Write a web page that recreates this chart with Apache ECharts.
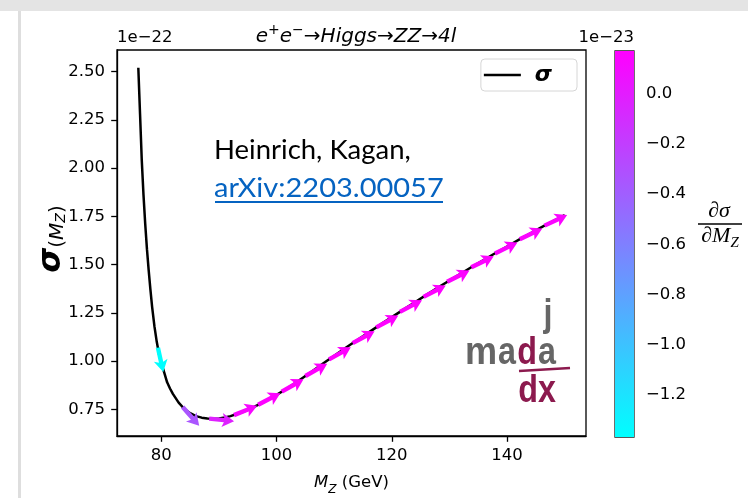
<!DOCTYPE html>
<html>
<head>
<meta charset="utf-8">
<script src="https://cdn.jsdelivr.net/npm/echarts@6/dist/echarts.min.js"></script>
<style>
  html, body { margin: 0; padding: 0; background: #ffffff; }
  #chart { width: 748px; height: 498px; }
</style>
</head>
<body>
<div id="chart"></div>
<script>
// Cross section sigma(M_Z) in units of 1e-22
const mzLine = [76.0, 76.3, 76.6, 76.9, 77.2, 77.5, 77.8, 78.1, 78.4, 78.8, 79.2, 79.6, 80.0, 80.5,
  81.0, 81.5, 82.0, 83.0, 84.0, 85.0, 86.0, 87.0, 88.0, 89.0, 90.0, 91.0, 92.0, 94.0, 96.0, 98.0,
  100, 102, 104, 106, 108, 110, 112, 114, 116, 118, 120, 122, 124, 126, 128, 130, 132, 134, 136,
  138, 140, 142, 144, 146, 148, 150];
const sigmaLine = [2.52, 2.28, 2.04, 1.86, 1.71, 1.58, 1.47, 1.37, 1.28, 1.18, 1.10, 1.035, 0.99, 0.94,
  0.89, 0.858, 0.83, 0.785, 0.752, 0.73, 0.715, 0.707, 0.703, 0.702, 0.703, 0.708, 0.715, 0.735, 0.762, 0.792,
  0.825, 0.862, 0.902, 0.944, 0.986, 1.028, 1.069, 1.109, 1.149, 1.189, 1.228, 1.267, 1.305, 1.343, 1.381,
  1.418, 1.454, 1.490, 1.525, 1.560, 1.594, 1.628, 1.661, 1.694, 1.726, 1.757];

// Gradient arrows: position, sigma at the tail, d(sigma)/dM_Z in units of 1e-23
const arrowMz = [79.4, 83.7, 88.3, 92.6, 96.8, 100.9, 105.0, 109.1, 113.2, 117.3, 121.4, 125.5,
  129.6, 133.8, 137.9, 142.2, 146.5];
const arrowSigma = [1.07, 0.762, 0.702, 0.72, 0.774, 0.842, 0.923, 1.009, 1.093, 1.175, 1.255, 1.333,
  1.411, 1.486, 1.558, 1.631, 1.702];
const arrowSlope = [-1.367, -0.34, -0.03, 0.12, 0.155, 0.169, 0.168, 0.166, 0.163, 0.16, 0.157, 0.154,
  0.151, 0.148, 0.145, 0.143, 0.14];

// Tick labels
const xTicks = [80, 100, 120, 140];
const yTicks = [0.75, 1.00, 1.25, 1.50, 1.75, 2.00, 2.25, 2.50];
const cbTicks = [-1.2, -1.0, -0.8, -0.6, -0.4, -0.2, 0.0];
const cbRange = [-1.367, 0.169];

const FONT = 'DejaVu Sans';
const LOGO_FONT = 'Liberation Sans';
const chart = echarts.init(document.getElementById('chart'), null, { renderer: 'canvas' });

function minusFmt(v, digits) {
  const s = Math.abs(v).toFixed(digits);
  return (v < -1e-9 ? '\u2212' : '') + s;
}

function arrowItem(params, api) {
  const x = api.value(0), y = api.value(1), s = api.value(2);
  const p0 = api.coord([x, y]);
  const p1 = api.coord([x + 1, y + s * 0.1]);
  let dx = p1[0] - p0[0], dy = p1[1] - p0[1];
  const n = Math.hypot(dx, dy);
  dx /= n; dy /= n;
  const nx = -dy, ny = dx;
  const L = 25, sw = 2.2, hw = 7, hl = 12, ha = 10;
  const pt = (a, b) => [p0[0] + dx * a + nx * b, p0[1] + dy * a + ny * b];
  return {
    type: 'polygon',
    shape: { points: [pt(0, -sw), pt(L - ha, -sw), pt(L - hl, -hw), pt(L, 0), pt(L - hl, hw), pt(L - ha, sw), pt(0, sw)] },
    style: { fill: api.visual('color') }
  };
}

function colorbarItem(params, api) {
  const a = api.coord([0, api.value(2)]);
  const b = api.coord([1, api.value(1)]);
  return {
    type: 'rect',
    shape: { x: a[0], y: a[1], width: b[0] - a[0], height: b[1] - a[1] },
    style: {
      fill: new echarts.graphic.LinearGradient(0, 0, 0, 1, [
        { offset: 0, color: '#ff00ff' }, { offset: 1, color: '#00ffff' }
      ])
    }
  };
}

function logoText(txt, x, y, color, sx) {
  return {
    type: 'text', x: x, y: y, scaleX: sx,
    style: { text: txt, fontFamily: LOGO_FONT, fontWeight: 'bold', fontSize: 38, fill: color,
      textAlign: 'center', textVerticalAlign: 'middle' }
  };
}

const axisCommon = {
  axisLine: { show: true, lineStyle: { color: '#000', width: 1.3 } },
  splitLine: { show: false },
};

const option = {
  backgroundColor: '#ffffff',
  animation: false,
  title: {
    text: '{i|e}{s|+}{i|e}{s|\u2212}{n|\u2192}{i|Higgs}{n|\u2192}{i|ZZ}{n|\u2192}{i|4l}',
    left: 351, top: 18, textAlign: 'center',
    textStyle: {
      fontWeight: 'normal',
      rich: {
        i: { fontFamily: FONT, fontSize: 20, fontStyle: 'italic', fontWeight: 'normal', color: '#000', lineHeight: 24, verticalAlign: 'bottom' },
        n: { fontFamily: FONT, fontSize: 20, fontWeight: 'normal', color: '#000', lineHeight: 24, verticalAlign: 'bottom' },
        s: { fontFamily: FONT, fontSize: 14, fontWeight: 'normal', color: '#000', lineHeight: 24, verticalAlign: 'top' }
      }
    }
  },
  legend: {
    data: [{ name: 'σ', icon: 'rect' }],
    right: 171, top: 59,
    itemWidth: 37, itemHeight: 2.5,
    padding: [5, 25, 5, 3],
    borderColor: '#d6d6d6', borderWidth: 1, borderRadius: 4,
    textStyle: { fontFamily: FONT, fontSize: 22, fontStyle: 'italic', fontWeight: 'bold', color: '#000', padding: [0, 0, 0, 9] }
  },
  grid: [
    { left: 117, top: 50, width: 469, height: 386, show: true, borderColor: '#000', borderWidth: 1.3, outerBoundsMode: 'none', containLabel: false },
    { left: 615, top: 51, width: 19, height: 386, show: true, borderColor: '#222', borderWidth: 1.3, outerBoundsMode: 'none', containLabel: false }
  ],
  xAxis: [
    Object.assign({}, axisCommon, {
      type: 'value', gridIndex: 0, min: 72.3, max: 153.7,
      axisTick: { show: true, length: 5.8, lineStyle: { color: '#000', width: 1.3 }, customValues: xTicks },
      axisLabel: { customValues: xTicks, fontFamily: FONT, fontSize: 16.5, color: '#000', margin: 11 },
      name: '{i|M}{z|Z}{n| (GeV)}', nameLocation: 'middle', nameGap: 38,
      nameTextStyle: {
        rich: {
          i: { fontFamily: FONT, fontSize: 16.5, fontStyle: 'italic', color: '#000', lineHeight: 22, verticalAlign: 'top' },
          z: { fontFamily: FONT, fontSize: 12, fontStyle: 'italic', color: '#000', lineHeight: 22, verticalAlign: 'bottom' },
          n: { fontFamily: FONT, fontSize: 16.5, color: '#000', lineHeight: 22, verticalAlign: 'top' }
        }
      }
    }),
    { type: 'value', gridIndex: 1, min: 0, max: 1, show: false }
  ],
  yAxis: [
    Object.assign({}, axisCommon, {
      type: 'value', gridIndex: 0, min: 0.612, max: 2.612,
      axisTick: { show: true, length: 5.8, lineStyle: { color: '#000', width: 1.3 }, customValues: yTicks },
      axisLabel: { customValues: yTicks, fontFamily: FONT, fontSize: 16.5, color: '#000', margin: 12, formatter: v => v.toFixed(2) }
    }),
    {
      type: 'value', gridIndex: 1, min: cbRange[0], max: cbRange[1], position: 'right',
      axisLine: { show: false }, splitLine: { show: false },
      axisTick: { show: true, length: 5.8, lineStyle: { color: '#000', width: 1.3 }, customValues: cbTicks },
      axisLabel: { customValues: cbTicks, fontFamily: FONT, fontSize: 16.5, color: '#000', margin: 12, formatter: v => minusFmt(v, 1) }
    }
  ],
  visualMap: {
    show: false, type: 'continuous', seriesIndex: 1, dimension: 2,
    min: cbRange[0], max: cbRange[1],
    inRange: { color: ['#00ffff', '#ff00ff'] }
  },
  series: [
    {
      name: 'σ', type: 'line', xAxisIndex: 0, yAxisIndex: 0,
      data: mzLine.map((x, i) => [x, sigmaLine[i]]),
      showSymbol: false, symbol: 'none',
      lineStyle: { color: '#000', width: 2.5 }, itemStyle: { color: '#000' },
      z: 2
    },
    {
      name: 'gradient', type: 'custom', xAxisIndex: 0, yAxisIndex: 0,
      data: arrowMz.map((x, i) => [x, arrowSigma[i], arrowSlope[i]]),
      encode: { x: 0, y: 1 },
      renderItem: arrowItem, z: 3
    },
    {
      name: 'colorbar', type: 'custom', xAxisIndex: 1, yAxisIndex: 1,
      data: [[0, cbRange[0], cbRange[1]]],
      encode: { x: 0, y: [1, 2] },
      renderItem: colorbarItem, z: 1
    }
  ],
  graphic: [
    // slide frame
    { type: 'rect', shape: { x: 0, y: 0, width: 748, height: 11 }, style: { fill: '#e4e4e4' }, z: 0 },
    { type: 'rect', shape: { x: 18, y: 11, width: 3, height: 487 }, style: { fill: '#dedede' }, z: 0 },
    // y axis title
    { type: 'text', x: 51, y: 239, rotation: Math.PI / 2, style: {
        text: '{s|σ}{p|(}{m|M}{z|Z}{p|)}', textAlign: 'center', textVerticalAlign: 'middle',
        rich: {
          s: { fontFamily: FONT, fontSize: 32, fontWeight: 'bold', fontStyle: 'italic', fill: '#000', lineHeight: 34, verticalAlign: 'bottom' },
          p: { fontFamily: FONT, fontSize: 20, fill: '#000', lineHeight: 32, verticalAlign: 'bottom' },
          m: { fontFamily: FONT, fontSize: 20, fontStyle: 'italic', fill: '#000', lineHeight: 32, verticalAlign: 'bottom' },
          z: { fontFamily: FONT, fontSize: 14, fontStyle: 'italic', fill: '#000', lineHeight: 28, verticalAlign: 'bottom' }
        } } },
    // axis offset texts
    { type: 'text', x: 117, y: 38, style: { text: '1e\u221222', fontFamily: FONT, fontSize: 16.5, fill: '#000', textAlign: 'left', textVerticalAlign: 'middle' } },
    { type: 'text', x: 634, y: 38, style: { text: '1e\u221223', fontFamily: FONT, fontSize: 16.5, fill: '#000', textAlign: 'right', textVerticalAlign: 'middle' } },
    // colorbar label
    { type: 'text', x: 719, y: 211, style: { text: '∂σ', fontFamily: 'Liberation Serif', fontStyle: 'italic', fontSize: 22, fill: '#000', textAlign: 'center', textVerticalAlign: 'middle' } },
    { type: 'line', shape: { x1: 698, y1: 224, x2: 742, y2: 224 }, style: { stroke: '#000', lineWidth: 1.5 } },
    { type: 'text', x: 720, y: 238, style: {
        text: '{a|∂M}{b|Z}', textAlign: 'center', textVerticalAlign: 'middle',
        rich: {
          a: { fontFamily: 'Liberation Serif', fontStyle: 'italic', fontSize: 22, fill: '#000', lineHeight: 26, verticalAlign: 'top' },
          b: { fontFamily: 'Liberation Serif', fontStyle: 'italic', fontSize: 15, fill: '#000', lineHeight: 26, verticalAlign: 'bottom' }
        } } },
    // citation
    { type: 'text', x: 214, y: 150, style: { text: 'Heinrich, Kagan,', fontFamily: 'Lato', fontSize: 27.5, fill: '#000', textAlign: 'left', textVerticalAlign: 'middle' } },
    { type: 'text', x: 214, y: 188, scaleX: 1.055, style: { text: 'arXiv:2203.00057', fontFamily: 'Lato', fontSize: 27.5, fill: '#0563c1', textAlign: 'left', textVerticalAlign: 'middle' } },
    { type: 'line', shape: { x1: 215, y1: 202, x2: 443, y2: 202 }, style: { stroke: '#0563c1', lineWidth: 2 } },
    // logo
    logoText('j', 548, 316, '#666666', 0.85),
    logoText('m', 481, 354, '#666666', 0.95),
    logoText('a', 507, 354, '#666666', 0.85),
    logoText('d', 527, 354, '#8c1a4e', 0.85),
    logoText('a', 547, 354, '#666666', 0.85),
    { type: 'line', shape: { x1: 519, y1: 371, x2: 570, y2: 368 }, style: { stroke: '#8c1a4e', lineWidth: 2.5 } },
    logoText('dx', 537, 392, '#8c1a4e', 0.85)
  ]
};

chart.setOption(option);
</script>
</body>
</html>
